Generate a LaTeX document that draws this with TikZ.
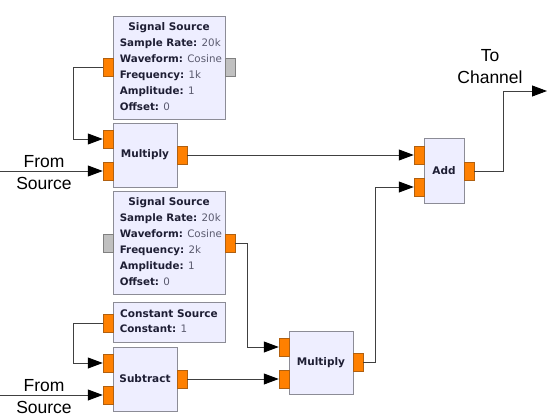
\documentclass[tikz,border=0pt]{standalone}
\usepackage{fontspec}
\setmainfont{DejaVu Sans}
\newfontfamily\labelfont{Liberation Sans}
\usetikzlibrary{arrows.meta}
\definecolor{blockfill}{HTML}{EEEEFF}
\definecolor{blockline}{HTML}{8C8C96}
\definecolor{portorange}{HTML}{FF8000}
\definecolor{portedge}{HTML}{B06010}
\definecolor{portgrey}{HTML}{C0C0C0}
\definecolor{wirecol}{HTML}{404040}
\definecolor{titlecol}{HTML}{1E1E34}
\definecolor{valuecol}{HTML}{5A5A6E}
\begin{document}
\begin{tikzpicture}[y=-1pt,x=1pt]
        \tikzset{
            block/.style={draw=blockline,fill=blockfill,line width=0.8pt,inner sep=0pt},
            title/.style={inner sep=0pt,text=titlecol,font=\fontsize{10.5}{16}\selectfont\bfseries},
            params/.style={inner sep=0pt,anchor=north west,align=left,text=valuecol,font=\fontsize{10.3}{16}\selectfont},
            port/.style={draw=portedge,fill=portorange,minimum width=10,minimum height=18,inner sep=0pt,line width=0.5pt},
            deadport/.style={port,draw=gray,fill=portgrey},
            wire/.style={draw=wirecol,line width=0.9pt,-{Triangle[length=15pt,width=11pt,color=black]}},
            iolabel/.style={align=center,font=\labelfont\fontsize{17.5}{22}\selectfont}
        }
        \useasboundingbox (0,0) rectangle (547,418);

        \node[block,minimum width=112,minimum height=103] (ss1) at (169,67.5) {};
        \node[title] at ([yshift=-12pt]ss1.north) {Signal Source};
        \node[params] at ([xshift=7pt,yshift=-23pt]ss1.north west) {\textcolor{titlecol}{\bfseries Sample Rate:} 20k\\\textcolor{titlecol}{\bfseries Waveform:} Cosine\\\textcolor{titlecol}{\bfseries Frequency:} 1k\\\textcolor{titlecol}{\bfseries Amplitude:} 1\\\textcolor{titlecol}{\bfseries Offset:} 0};
        \node[port] (ss1in) at (108,67) {};
        \node[deadport] (ss1out) at (230,67) {};

        \node[block,minimum width=64,minimum height=64] (mul1) at (145,155) {};
        \node[title] at (mul1) {Multiply};
        \node[port] (mul1a) at (108,139) {};
        \node[port] (mul1b) at (108,171) {};
        \node[port] (mul1o) at (182,155) {};

        \node[block,minimum width=112,minimum height=103] (ss2) at (169,242.5) {};
        \node[title] at ([yshift=-12pt]ss2.north) {Signal Source};
        \node[params] at ([xshift=7pt,yshift=-23pt]ss2.north west) {\textcolor{titlecol}{\bfseries Sample Rate:} 20k\\\textcolor{titlecol}{\bfseries Waveform:} Cosine\\\textcolor{titlecol}{\bfseries Frequency:} 2k\\\textcolor{titlecol}{\bfseries Amplitude:} 1\\\textcolor{titlecol}{\bfseries Offset:} 0};
        \node[deadport] (ss2in) at (108,243) {};
        \node[port] (ss2out) at (230,243) {};

        \node[block,minimum width=112,minimum height=40] (const) at (169,322) {};
        \node[title] at ([yshift=-12pt]const.north) {Constant Source};
        \node[params] at ([xshift=7pt,yshift=-23pt]const.north west) {\textcolor{titlecol}{\bfseries Constant:} 1};
        \node[port] (constout) at (108,323) {};

        \node[block,minimum width=64,minimum height=64] (sub) at (145,379) {};
        \node[title] at (sub) {Subtract};
        \node[port] (suba) at (108,363) {};
        \node[port] (subb) at (108,395) {};
        \node[port] (subo) at (182,379) {};

        \node[block,minimum width=64,minimum height=63] (mul2) at (321,362.5) {};
        \node[title] at (mul2) {Multiply};
        \node[port] (mul2a) at (284,347) {};
        \node[port] (mul2b) at (284,379) {};
        \node[port] (mul2o) at (358,362.5) {};

        \node[block,minimum width=40,minimum height=65] (add) at (444,170.5) {};
        \node[title] at (add) {Add};
        \node[port] (adda) at (419,155) {};
        \node[port] (addb) at (419,187) {};
        \node[port] (addo) at (469,171) {};

        \node[iolabel] (src1) at (44,173) {From\\Source};
        \node[iolabel] (src2) at (44,397) {From\\Source};
        \node[iolabel] (chan) at (490,67) {To\\Channel};
        \coordinate (in1) at (0,171);
        \coordinate (in2) at (0,395);
        \coordinate (out) at (547,91);

        \draw[wire] (ss1in.west) -- ++(-29,0) |- (mul1a.west);
        \draw[wire] (in1) -- (mul1b.west);
        \draw[wire] (mul1o.east) -- (adda.west);
        \draw[wire] (ss2out.east) -- ++(12,0) |- (mul2a.west);
        \draw[wire] (constout.west) -- ++(-29,0) |- (suba.west);
        \draw[wire] (in2) -- (subb.west);
        \draw[wire] (subo.east) -- (mul2b.west);
        \draw[wire] (mul2o.east) -- ++(12,0) |- (addb.west);
        \draw[wire] (addo.east) -- ++(29,0) |- (out);
    \end{tikzpicture}
\end{document}
